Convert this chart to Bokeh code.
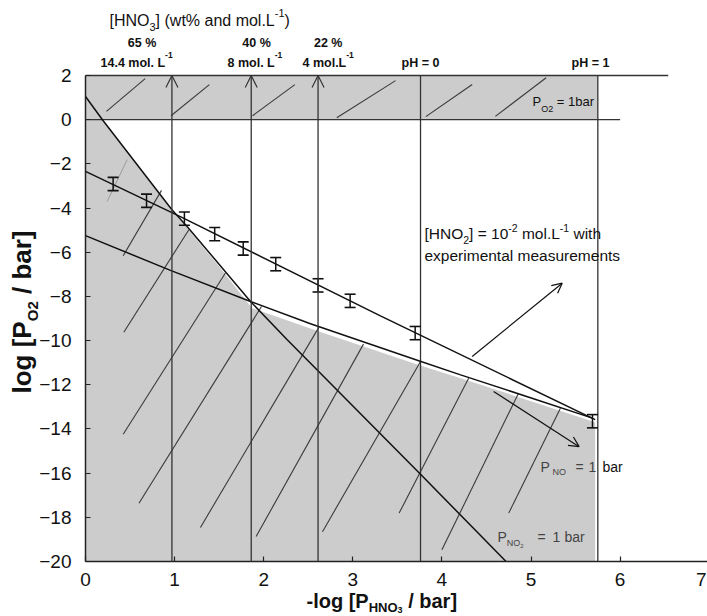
import math
from bokeh.plotting import figure
from bokeh.models import Range1d, FixedTicker, Label, Arrow, OpenHead, ColumnDataSource
from bokeh.embed import file_html
from bokeh.resources import INLINE

# ---------------- data ----------------
x_ticks = [0, 1, 2, 3, 4, 5, 6, 7]
y_ticks = [-20, -18, -16, -14, -12, -10, -8, -6, -4, -2, 0, 2]
x_edge_label = "7"

# experimental measurements ([HNO2] = 1e-2 mol/L)
x_exp = [0.31, 0.685, 1.11, 1.45, 1.77, 2.135, 2.61, 2.97, 3.70, 5.69]
y_exp = [-2.91, -3.67, -4.48, -5.18, -5.83, -6.54, -7.50, -8.20, -9.66, -13.65]
err_exp = [0.30, 0.30, 0.30, 0.30, 0.30, 0.30, 0.30, 0.30, 0.30, 0.30]

# [HNO2] = 1e-2 mol/L line
hno2_x = [0, 1.07, 3.31, 5.72]
hno2_y = [-2.34, -4.40, -8.88, -13.58]

# P_NO = 1 bar line
no_x = [0, 0.954, 1.852, 2.525, 3.74, 4.21, 5.69]
no_y = [-5.25, -6.82, -8.23, -9.24, -10.91, -11.55, -13.51]

# P_NO2 = 1 bar line
no2_x = [0, 0.19, 0.97, 1.14, 1.852, 2.264, 3.76, 4.72]
no2_y = [1.05, 0, -4.08, -4.83, -8.23, -9.96, -16.05, -20]

# shaded (stable) domain
shade_x = [0, 0, 0.19, 0.97, 1.5, 1.87, 2.62, 3.74, 4.21, 5.72, 5.72]
shade_y = [-20, 1.05, 0, -4.08, -6.65, -8.53, -9.59, -11.10, -11.70, -13.70, -20]

# P_O2 = 1 bar band
band_left = [0]
band_right = [5.75]
band_bottom = [0]
band_top = [2]

# concentration markers (arrows) and pH lines
conc_x = [0.97, 1.86, 2.61]
ph_x = [3.76, 5.75]
vline_bottom = -20
vline_top = 2

# horizontal boundary lines
hline_y = [2, 0]
hline_x_end = [6.54, 6.0]

# hatching in band
band_hx0 = [0.235, 0.96, 1.875, 2.82, 3.82, 4.60]
band_hy0 = [0.38, 0.18, 0.18, 0.09, 0.14, 0.15]
band_hx1 = [0.67, 1.39, 2.35, 3.48, 4.34, 5.17]
band_hy1 = [1.86, 1.59, 1.59, 1.77, 1.59, 1.90]

# hatching in shaded domain
low_hx0 = [0.423, 0.43, 0.423, 0.60, 1.29, 1.915, 2.66, 3.52, 4.0, 4.75]
low_hy0 = [-6.16, -9.62, -14.24, -17.36, -18.46, -18.87, -18.65, -17.81, -19.47, -17.81]
low_hx1 = [0.853, 1.16, 1.57, 1.975, 2.62, 3.12, 3.76, 4.30, 4.86, 5.33]
low_hy1 = [-3.20, -4.98, -6.94, -8.46, -9.39, -10.16, -10.95, -11.70, -12.38, -13.06]
faint_hx = [0.243, 0.468]
faint_hy = [-3.70, -1.81]

# annotation arrows (start x, start y, end x, end y)
hno2_arrow = [4.34, -10.72, 5.35, -7.40]
no_arrow = [4.58, -12.30, 5.54, -14.80]

# ---------------- layout ----------------
FONT = "Liberation Sans"
PX_X = 89.1      # pixels per x unit
PX_Y = 22.09     # pixels per y unit
ORIGIN_PX = 85   # canvas x of data x = 0
BOTTOM_PX = 561  # canvas y of data y = -20
W, H = 707, 616
MID_SHIFT = 0.355  # distance (in em) from the text middle down to the baseline


def X(px):
    return (px - ORIGIN_PX) / PX_X


def Y(py):
    return -20 + (BOTTOM_PX - py) / PX_Y


p = figure(width=W, height=H, output_backend="svg", toolbar_location=None,
           x_range=Range1d(X(0), X(W)), y_range=Range1d(Y(H), Y(0)),
           min_border=0, min_border_left=0, min_border_right=0,
           min_border_top=0, min_border_bottom=0)
p.outline_line_color = None
p.xgrid.visible = False
p.ygrid.visible = False
p.background_fill_color = "white"
p.border_fill_color = "white"

for ax in (p.xaxis, p.yaxis):
    ax.axis_line_color = "#222222"
    ax.axis_line_width = 1.5
    ax.major_tick_in = 5
    ax.major_tick_out = 0
    ax.major_tick_line_color = "#222222"
    ax.major_tick_line_width = 1.2
    ax.minor_tick_line_color = None
    ax.major_label_text_font = FONT
    ax.major_label_text_font_size = "19px"
    ax.major_label_text_color = "#111111"
p.xaxis.ticker = FixedTicker(ticks=x_ticks)
p.yaxis.ticker = FixedTicker(ticks=y_ticks)
p.xaxis.fixed_location = -20
p.yaxis.fixed_location = 0
p.xaxis.bounds = (0, 7)
p.yaxis.bounds = (-20, 2)
p.xaxis.major_label_standoff = 11
p.yaxis.major_label_standoff = 14

# shaded domain and band
p.patch(shade_x, shade_y, fill_color="#cccccc", line_color=None)
p.quad(left=band_left, right=band_right, bottom=band_bottom, top=band_top,
       fill_color="#cccccc", line_color=None)

# hatching
p.segment(band_hx0, band_hy0, band_hx1, band_hy1, line_color="#3a3a3a", line_width=1.1)
p.segment(low_hx0, low_hy0, low_hx1, low_hy1, line_color="#3a3a3a", line_width=1.1)
p.line(faint_hx, faint_hy, line_color="#9a9a9a", line_width=1.0)

# horizontal lines
p.segment([0] * len(hline_y), hline_y, hline_x_end, hline_y, line_color="#333333", line_width=1.3)

# pH vertical lines
p.segment(ph_x, [vline_bottom] * len(ph_x), ph_x, [vline_top] * len(ph_x),
          line_color="#333333", line_width=1.3)

# concentration arrows
arr_src = ColumnDataSource(dict(x0=conc_x, y0=[vline_bottom] * len(conc_x),
                                x1=conc_x, y1=[vline_top] * len(conc_x)))
p.add_layout(Arrow(source=arr_src, x_start="x0", y_start="y0", x_end="x1", y_end="y1",
                   line_color="#333333", line_width=1.3,
                   end=OpenHead(size=12, line_color="#333333", line_width=1.2)))

# main lines
p.line(no2_x, no2_y, line_color="#111111", line_width=1.5)
p.line(no_x, no_y, line_color="#111111", line_width=1.5)
p.line(hno2_x, hno2_y, line_color="#111111", line_width=1.5)

# error bars
y_lo = [y - e for y, e in zip(y_exp, err_exp)]
y_hi = [y + e for y, e in zip(y_exp, err_exp)]
p.segment(x_exp, y_lo, x_exp, y_hi, line_color="#111111", line_width=1.5)
p.scatter(x_exp, y_lo, marker="dash", size=11, line_color="#111111", line_width=1.6)
p.scatter(x_exp, y_hi, marker="dash", size=11, line_color="#111111", line_width=1.6)

# annotation arrows
for a in (hno2_arrow, no_arrow):
    p.add_layout(Arrow(x_start=a[0], y_start=a[1], x_end=a[2], y_end=a[3],
                       line_color="#111111", line_width=1.2,
                       end=OpenHead(size=10, line_color="#111111", line_width=1.2)))

# ---------------- text helpers ----------------
W_REG = {' ': 278, '%': 889, '(': 333, ')': 333, '-': 333, '.': 278, '/': 278, '=': 584,
         '[': 278, ']': 278, 'H': 722, 'L': 556, 'N': 722, 'O': 778, 'P': 667,
         'a': 556, 'b': 556, 'd': 556, 'e': 556, 'g': 556, 'h': 556, 'i': 222, 'l': 222,
         'm': 833, 'n': 556, 'o': 556, 'p': 556, 'r': 333, 's': 500, 't': 278, 'u': 556,
         'w': 722, 'x': 500}
W_BOLD = {' ': 278, '%': 889, '(': 333, ')': 333, '-': 333, '.': 278, '/': 278, '=': 584,
          '[': 333, ']': 333, 'H': 722, 'L': 611, 'N': 722, 'O': 778, 'P': 667,
          'a': 556, 'b': 611, 'g': 611, 'h': 611, 'l': 278, 'm': 889, 'o': 611, 'p': 611,
          'r': 389}


def tw(s, size, bold):
    t = W_BOLD if bold else W_REG
    return sum(t.get(c, 556) for c in s) * size / 1000.0


def rich(pieces, px, py, align="left", bold=False, color="#111111"):
    """py is the baseline (canvas pixels from the top)."""
    total = sum(tw(t, s, bold) for t, s, d in pieces)
    if align == "center":
        x = px - total / 2
    elif align == "right":
        x = px - total
    else:
        x = px
    for t, s, d in pieces:
        lead = len(t) - len(t.lstrip(' '))
        x += lead * tw(' ', s, bold)
        core = t.strip(' ')
        if core:
            p.add_layout(Label(x=X(x), y=Y(py + d - MID_SHIFT * s), text=core, text_font=FONT,
                               text_font_size=f"{s}px",
                               text_font_style="bold" if bold else "normal",
                               text_color=color, text_align="left",
                               text_baseline="middle"))
        x += tw(core, s, bold)
        trail = len(t) - len(t.rstrip(' ')) if core else 0
        x += trail * tw(' ', s, bold)


def rich_v(pieces, px, py, bold=True, color="#111111"):
    """Vertical text reading upwards; px is the baseline, py the start."""
    y = py
    for t, s, d in pieces:
        lead = len(t) - len(t.lstrip(' '))
        y -= lead * tw(' ', s, bold)
        core = t.strip(' ')
        p.add_layout(Label(x=X(px + d - MID_SHIFT * s), y=Y(y), text=core, text_font=FONT,
                           text_font_size=f"{s}px",
                           text_font_style="bold" if bold else "normal",
                           text_color=color, text_align="left",
                           text_baseline="middle", angle=math.pi / 2))
        y -= tw(core, s, bold)
        y -= (len(t) - len(t.rstrip(' '))) * tw(' ', s, bold)


# top header
rich([("[HNO", 16, 0), ("3", 11, 4), ("] (wt% and mol.L", 16, 0), ("-1", 11, -10), (")", 16, 0)],
     109, 26)
for txt, cx in (("65 %", 141.5), ("40 %", 256), ("22 %", 327.7)):
    rich([(txt, 12.5, 0)], cx, 46.5, align="center", bold=True)
for txt, lx in (("14.4 mol. L", 100), ("8 mol. L", 227), ("4 mol.L", 302)):
    rich([(txt, 12.5, 0), ("-1", 8.5, -9)], lx, 67, bold=True)
rich([("pH = 0", 12.5, 0)], 401, 67, bold=True)
rich([("pH = 1", 12.5, 0)], 571, 67, bold=True)

# band label
rich([("P", 13, 0), ("O2", 9, 5.5), (" = 1bar", 13, 0)], 532, 106)

# HNO2 label
rich([("[HNO", 15.5, 0), ("2", 10.5, 4), ("] = 10", 15.5, 0), ("-2", 10.5, -8),
      (" mol.L", 15.5, 0), ("-1", 10.5, -8), (" with", 15.5, 0)], 424, 239)
rich([("experimental measurements", 15.5, 0)], 424, 261)

# P_NO label
rich([("P", 14, 0)], 540, 471, color="#444444")
rich([("NO", 9, 0)], 552, 474.5, color="#444444")
rich([("=", 14, 0)], 575, 471, color="#444444")
rich([("1", 14, 0)], 588, 471, color="#444444")
rich([("bar", 14, 0)], 602, 471, color="#111111")

# P_NO2 label
rich([("P", 14, 0), ("NO", 9, 4.5), ("2", 6, 6)], 497, 541.5, color="#444444")
rich([("=", 14, 0)], 537, 541.5, color="#444444")
rich([("1", 14, 0)], 552, 541.5, color="#444444")
rich([("bar", 14, 0)], 564, 541.5, color="#444444")

# last x tick label, at the right edge of the window
rich([(x_edge_label, 19, 0)], 706, 586, align="right")

# axis titles
rich([("-log [P", 20, 0), ("HNO", 13, 4), ("3", 9, 5), (" / bar]", 20, 0)], 306, 608, bold=True)
rich_v([("log [P", 26, 0), ("O2", 15, 6), (" / bar]", 26, 0)], 31, 393)

open("out.html", "w").write(file_html(p, INLINE))
